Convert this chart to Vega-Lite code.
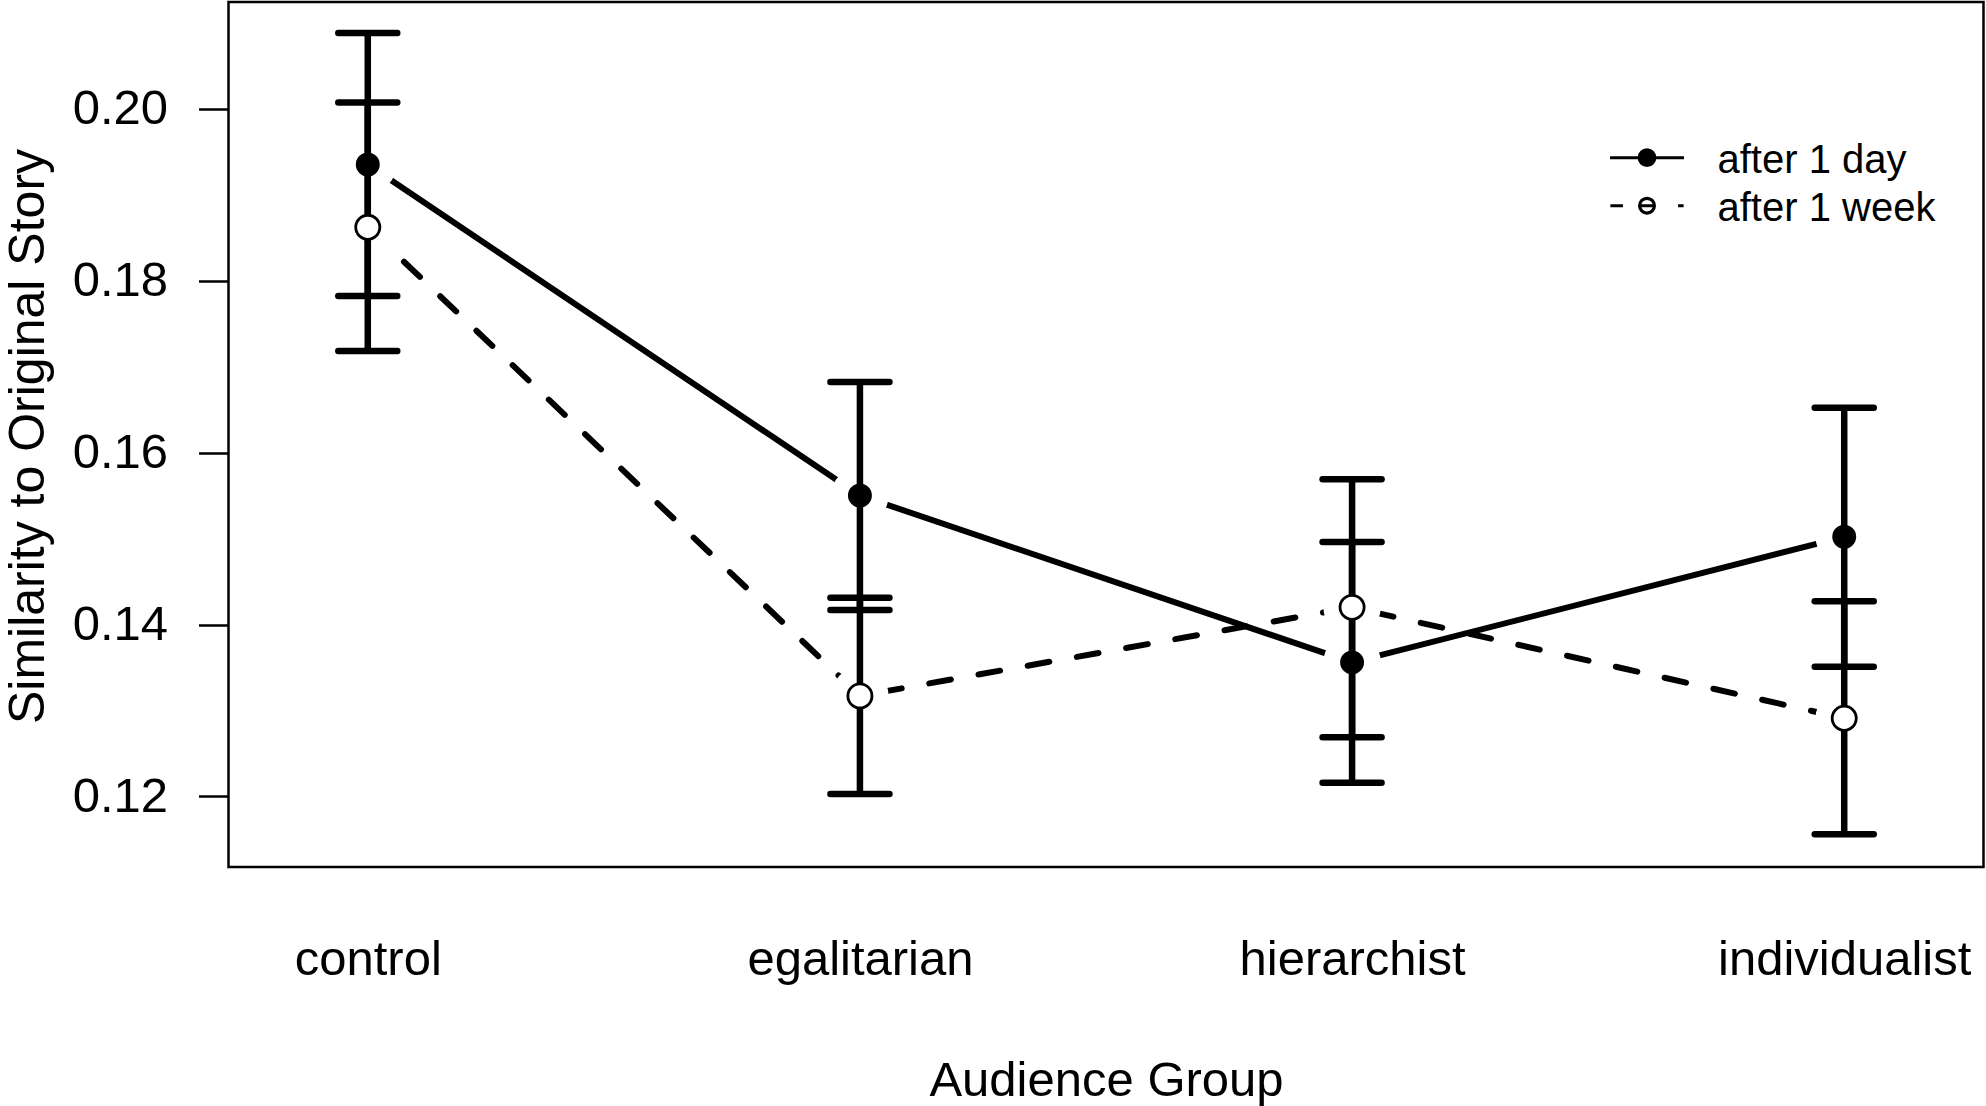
{
  "$schema": "https://vega.github.io/schema/vega-lite/v6.json",
  "width": 1755,
  "height": 865,
  "autosize": {"type": "none"},
  "padding": {"left": 228.5, "top": 2, "right": 2.5, "bottom": 239},
  "background": "white",
  "data": {
    "values": [
      {"group": "control", "time": "after 1 day", "mean": 0.1935, "lo": 0.1782, "hi": 0.2088},
      {"group": "control", "time": "after 1 week", "mean": 0.1862, "lo": 0.1718, "hi": 0.2007},
      {"group": "egalitarian", "time": "after 1 day", "mean": 0.1550, "lo": 0.1417, "hi": 0.1682},
      {"group": "egalitarian", "time": "after 1 week", "mean": 0.1317, "lo": 0.1203, "hi": 0.1431},
      {"group": "hierarchist", "time": "after 1 day", "mean": 0.1356, "lo": 0.1216, "hi": 0.1496},
      {"group": "hierarchist", "time": "after 1 week", "mean": 0.1420, "lo": 0.1269, "hi": 0.1569},
      {"group": "individualist", "time": "after 1 day", "mean": 0.1502, "lo": 0.1351, "hi": 0.1652},
      {"group": "individualist", "time": "after 1 week", "mean": 0.1291, "lo": 0.1156, "hi": 0.1427}
    ]
  },
  "encoding": {
    "x": {
      "field": "group", "type": "nominal",
      "sort": ["control", "egalitarian", "hierarchist", "individualist"],
      "scale": {"type": "point", "padding": 0.283},
      "axis": {
        "title": "Audience Group", "labelAngle": 0, "ticks": false, "tickSize": 0, "domain": false,
        "labelPadding": 107, "labelBaseline": "alphabetic", "labelLimit": 0,
        "titleY": 228, "titleBaseline": "alphabetic"
      }
    },
    "y": {
      "field": "mean", "type": "quantitative",
      "scale": {"domain": [0.1118, 0.2124], "nice": false, "zero": false},
      "axis": {
        "title": "Similarity to Original Story",
        "values": [0.12, 0.14, 0.16, 0.18, 0.20], "format": ".2f",
        "domain": false, "grid": false, "tickSize": 30, "tickWidth": 2.5, "tickColor": "black",
        "labelPadding": 31, "labelBaseline": "middle",
        "titleX": -185, "titleY": 434, "titleAngle": -90, "titleBaseline": "alphabetic", "titleAlign": "center",
        "titleFontSize": 50
      }
    }
  },
  "layer": [
    {
      "transform": [{"filter": "datum.time == 'after 1 day'"}],
      "mark": {"type": "line", "color": "black", "strokeWidth": 6, "strokeCap": "round"}
    },
    {
      "transform": [{"filter": "datum.time == 'after 1 week'"}],
      "mark": {"type": "line", "color": "black", "strokeWidth": 6, "strokeCap": "round", "strokeDash": [22, 28]}
    },
    {
      "mark": {"type": "point", "shape": "circle", "filled": true, "color": "white", "opacity": 1, "size": 3300}
    },
    {
      "mark": {"type": "rule", "color": "black", "strokeWidth": 6.5},
      "encoding": {"y": {"field": "lo", "type": "quantitative"}, "y2": {"field": "hi"}}
    },
    {
      "mark": {"type": "rule", "color": "black", "strokeWidth": 6.5, "strokeCap": "round", "xOffset": -29.5, "x2Offset": 29.5},
      "encoding": {"x2": {"field": "group"}, "y": {"field": "lo", "type": "quantitative"}}
    },
    {
      "mark": {"type": "rule", "color": "black", "strokeWidth": 6.5, "strokeCap": "round", "xOffset": -29.5, "x2Offset": 29.5},
      "encoding": {"x2": {"field": "group"}, "y": {"field": "hi", "type": "quantitative"}}
    },
    {
      "transform": [{"filter": "datum.time == 'after 1 day'"}],
      "mark": {"type": "point", "shape": "circle", "filled": true, "fill": "black", "stroke": "black", "strokeWidth": 2.5, "opacity": 1, "size": 460}
    },
    {
      "transform": [{"filter": "datum.time == 'after 1 week'"}],
      "mark": {"type": "point", "shape": "circle", "filled": true, "fill": "white", "stroke": "black", "strokeWidth": 2.8, "opacity": 1, "size": 580}
    },
    {
      "transform": [{"filter": "false"}],
      "mark": {"type": "point", "filled": false, "opacity": 1},
      "encoding": {
        "stroke": {
          "field": "time", "type": "nominal",
          "scale": {"domain": ["after 1 day", "after 1 week"], "range": ["black", "black"]},
          "legend": {
            "title": null, "orient": "none", "legendX": 1398, "legendY": 138, "padding": 0,
            "symbolSize": 1369, "symbolStrokeWidth": 3.2, "symbolOpacity": 1,
            "labelFontSize": 40, "labelFont": "Liberation Sans", "labelColor": "black",
            "labelOffset": 50, "rowPadding": 7, "labelLimit": 400
          }
        },
        "fill": {
          "field": "time", "type": "nominal",
          "scale": {"domain": ["after 1 day", "after 1 week"], "range": ["black", "white"]},
          "legend": {
            "title": null, "orient": "none", "legendX": 1398, "legendY": 138, "padding": 0,
            "symbolSize": 1369, "symbolStrokeWidth": 3.2, "symbolOpacity": 1,
            "labelFontSize": 40, "labelFont": "Liberation Sans", "labelColor": "black",
            "labelOffset": 50, "rowPadding": 7, "labelLimit": 400
          }
        },
        "shape": {
          "field": "time", "type": "nominal",
          "scale": {
            "domain": ["after 1 day", "after 1 week"],
            "range": [
              "M0.42,-0.15A0.42,0.42,0,1,1,-0.42,-0.15A0.42,0.42,0,1,1,0.42,-0.15ZM-2,-0.15L2,-0.15",
              "M0.4,-0.15A0.4,0.4,0,1,1,-0.4,-0.15A0.4,0.4,0,1,1,0.4,-0.15ZM-1.98,-0.15L-1.3,-0.15M-0.4,-0.15L0.4,-0.15M1.68,-0.15L1.98,-0.15"
            ]
          },
          "legend": {
            "title": null, "orient": "none", "legendX": 1398, "legendY": 138, "padding": 0,
            "symbolSize": 1369, "symbolStrokeWidth": 3.2, "symbolOpacity": 1,
            "labelFontSize": 40, "labelFont": "Liberation Sans", "labelColor": "black",
            "labelOffset": 50, "rowPadding": 7, "labelLimit": 400
          }
        }
      }
    }
  ],
  "config": {
    "view": {"stroke": "black", "strokeWidth": 2.5},
    "font": "Liberation Sans",
    "axis": {
      "labelFont": "Liberation Sans", "labelFontSize": 49, "labelColor": "black",
      "titleFont": "Liberation Sans", "titleFontSize": 49, "titleFontWeight": "normal", "titleColor": "black"
    }
  }
}
